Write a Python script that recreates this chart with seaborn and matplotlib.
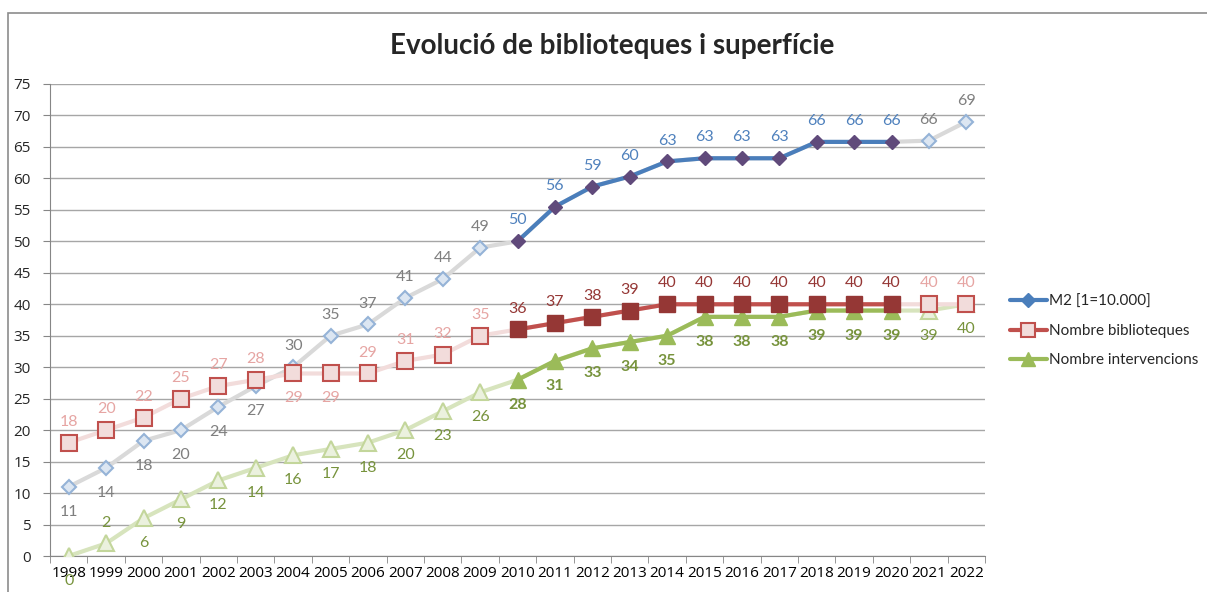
import matplotlib
matplotlib.use('Agg')
import matplotlib.pyplot as plt
from matplotlib.lines import Line2D
from matplotlib.patches import Rectangle
from matplotlib.ticker import MultipleLocator
import pandas as pd
import seaborn as sns

# Data
years = list(range(1998, 2023))
m2 = [11, 14, 18.3, 20, 23.7, 27, 30, 35, 36.8, 41, 44, 49, 50,
      55.5, 58.7, 60.3, 62.7, 63.2, 63.2, 63.2, 65.8, 65.8, 65.8, 66, 69]
biblioteques = [18, 20, 22, 25, 27, 28, 29, 29, 29, 31, 32, 35, 36,
                37, 38, 39, 40, 40, 40, 40, 40, 40, 40, 40, 40]
intervencions = [0, 2, 6, 9, 12, 14, 16, 17, 18, 20, 23, 26, 28,
                 31, 33, 34, 35, 38, 38, 38, 39, 39, 39, 39, 40]

series_names = ['M2 [1=10.000]', 'Nombre biblioteques', 'Nombre intervencions']
title = 'Evolució de biblioteques i superfície'

# highlighted period
hi_start, hi_end = 2010, 2020

df = pd.DataFrame({'year': years, 'm2': m2, 'bib': biblioteques, 'int': intervencions})
df_hi = df[(df['year'] >= hi_start) & (df['year'] <= hi_end)]
df_lo = df[(df['year'] < hi_start) | (df['year'] > hi_end)]

sns.set_style('white')
plt.rcParams['font.family'] = ['Lato', 'DejaVu Sans']
tick_font = ['Open Sans', 'DejaVu Sans']

fig = plt.figure(figsize=(12.07, 5.92), dpi=100)
ax = fig.add_axes([50 / 1207, 36 / 592, 935 / 1207, 472 / 592])

# look of each series, faded outside the highlighted period
styles = {
    'm2': dict(lo_line='#d9d9d9', lo_face='#dce6f2', lo_edge='#95b3d7',
               hi_line='#4a7ebb', hi_mark='#604a7b', marker='D', ms=7,
               lo_lab='#7f7f7f', hi_lab='#4f81bd', weight='normal'),
    'bib': dict(lo_line='#f2dcdb', lo_face='#f2dcdb', lo_edge='#c0504d',
                hi_line='#c0504d', hi_mark='#953735', marker='s', ms=11,
                lo_lab='#e6a5a3', hi_lab='#953735', weight='normal'),
    'int': dict(lo_line='#d7e4bd', lo_face='#ebf1de', lo_edge='#c3d69b',
                hi_line='#9bbb59', hi_mark='#9bbb59', marker='^', ms=11,
                lo_lab='#77933c', hi_lab='#77933c', weight='bold'),
}

# labels placed below the point (others above)
below = {
    'm2': set(range(1998, 2004)),
    'bib': {2004, 2005},
    'int': set(years) - {1999},
}

for key, z in [('m2', 2), ('int', 3), ('bib', 4)]:
    st = styles[key]
    sns.lineplot(data=df, x='year', y=key, ax=ax, color=st['lo_line'], lw=3,
                 zorder=z)
    sns.lineplot(data=df_hi, x='year', y=key, ax=ax, color=st['hi_line'], lw=3,
                 zorder=z + 0.1)
    ax.plot(df_lo['year'], df_lo[key], ls='none', marker=st['marker'], ms=st['ms'],
            mfc=st['lo_face'], mec=st['lo_edge'], mew=1.5, zorder=z + 0.2)
    ax.plot(df_hi['year'], df_hi[key], ls='none', marker=st['marker'], ms=st['ms'],
            mfc=st['hi_mark'], mec=st['hi_mark'], mew=1, zorder=z + 0.2)
    for yr, v in zip(df['year'], df[key]):
        hi = hi_start <= yr <= hi_end
        dy = -18 if yr in below[key] else 15
        ax.annotate(f'{v:.0f}', (yr, v), xytext=(0, dy), textcoords='offset points',
                    ha='center', va='center', fontsize=11.5,
                    color=st['hi_lab'] if hi else st['lo_lab'],
                    fontweight=st['weight'] if hi else 'normal', zorder=6)

ax.set_xlim(1997.5, 2022.5)
ax.set_ylim(0, 75)
ax.yaxis.set_major_locator(MultipleLocator(5))
ax.set_xticks(years)
ax.set_xticklabels([str(y) for y in years], family=tick_font)
for lab in ax.get_yticklabels():
    lab.set_family(tick_font)
ax.tick_params(axis='x', which='major', length=0, labelsize=11, pad=7, colors='black')
ax.set_xticks([y - 0.5 for y in years] + [2022.5], minor=True)
ax.tick_params(axis='x', which='minor', length=5, color='#868686', direction='out', bottom=True)
ax.tick_params(axis='y', length=5, color='#868686', labelsize=11, direction='out', left=True, pad=9)
ax.grid(axis='y', color='#a6a6a6', lw=1)
ax.set_axisbelow(True)
for s in ['top', 'right']:
    ax.spines[s].set_visible(False)
for s in ['left', 'bottom']:
    ax.spines[s].set_color('#868686')
ax.set_xlabel('')
ax.set_ylabel('')

fig.text(612 / 1207, 1 - 46 / 592, title, ha='center', va='center',
         fontsize=20, fontweight='bold')

# legend
handles = [
    Line2D([], [], color=styles['m2']['hi_line'], lw=3, marker='D', ms=7,
           mfc=styles['m2']['hi_line'], mec=styles['m2']['hi_line']),
    Line2D([], [], color=styles['bib']['hi_line'], lw=3, marker='s', ms=10,
           mfc=styles['bib']['lo_face'], mec=styles['bib']['lo_edge'], mew=1.5),
    Line2D([], [], color=styles['int']['hi_line'], lw=3, marker='^', ms=10,
           mfc=styles['int']['hi_line'], mec=styles['int']['hi_line']),
]
fig.legend(handles, series_names, loc='center left', bbox_to_anchor=(1010 / 1207, 1 - 331 / 592),
           frameon=False, fontsize=11, handlelength=2.4, handletextpad=0.15,
           labelspacing=1.0, borderpad=0, borderaxespad=0)

# chart frame
fig.patches.append(Rectangle((8 / 1207, -0.05), 1.2, 1 - 13 / 592 + 0.05,
                             transform=fig.transFigure, fill=False,
                             edgecolor='#8c8c8c', lw=1.2))

fig.savefig('out.png', dpi=100)
